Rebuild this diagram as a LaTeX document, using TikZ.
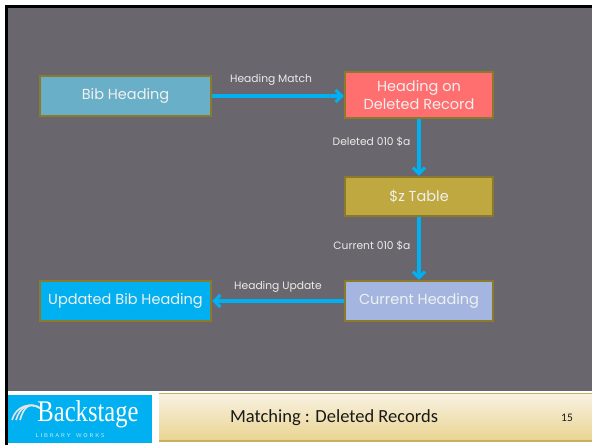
\documentclass[tikz,border=0pt]{standalone}
\usepackage{fontspec}
\setmainfont{Poppins}
\newfontfamily\footfont{Carlito}
\newfontfamily\logofont{Liberation Serif}
\usetikzlibrary{arrows.meta,positioning}

\definecolor{slidegray}{HTML}{69666D}
\definecolor{olive}{HTML}{8C7A2C}
\definecolor{flowblue}{HTML}{00B0F0}
\definecolor{bibblue}{HTML}{6AAFC8}
\definecolor{delred}{HTML}{FF6F6F}
\definecolor{zgold}{HTML}{C0A840}
\definecolor{curblue}{HTML}{A4B6E0}
\definecolor{foottop}{HTML}{F8F2E3}
\definecolor{footbot}{HTML}{EAD490}
\definecolor{footline}{HTML}{C8B060}

\tikzset{
  box/.style={draw=olive, line width=2.4pt, text=white!94!black, align=center,
    font=\fontsize{14.5}{17.5}\selectfont, inner sep=0pt},
  flow/.style={draw=flowblue, line width=3.2pt, -{Straight Barb[length=6pt,width=12pt]}},
  lbl/.style={text=white!92!black, font=\fontsize{10.7}{12}\selectfont, inner sep=2pt}
}

\begin{document}
\begin{tikzpicture}[x=1pt,y=-1pt]
  \useasboundingbox (0,0) rectangle (592,445);

  % slide background and frame
  \fill[black] (5,5) rectangle (592,8);
  \fill[black] (5,5) rectangle (8,445);
  \fill[slidegray] (8,8) rectangle (592,391);

  % boxes
  \node[box, fill=bibblue, minimum width=171pt, minimum height=40pt] (bib) at (125.5,96) {Bib Heading};
  \node[box, fill=delred, minimum width=148pt, minimum height=46pt] (deleted) at (419,95) {Heading on\\Deleted Record};
  \node[box, fill=zgold, minimum width=148pt, minimum height=39pt] (ztable) at (419,196.5) {\$z Table};
  \node[box, fill=curblue, minimum width=148pt, minimum height=40pt] (current) at (419,301) {Current Heading};
  \node[box, fill=flowblue, minimum width=171pt, minimum height=40pt] (updated) at (125.5,301) {Updated Bib Heading};

  % connectors
  \draw[flow] (bib.east) -- node[lbl, above=7pt, xshift=-7pt] {Heading Match} (bib.east -| deleted.west);
  \draw[flow] (deleted) -- node[lbl, left=5pt, pos=0.4] {Deleted 010 \$a} (ztable);
  \draw[flow] (ztable) -- node[lbl, left=5pt, pos=0.45] {Current 010 \$a} (current);
  \draw[flow] (current) -- node[lbl, above=5pt] {Heading Update} (updated);

  % footer
  \fill[flowblue] (8,395) rectangle (152,443);
  \foreach \d in {0,4,8} {
    \draw[white!80!gray, line width=1.6pt] (12+\d,420) .. controls (16+\d,406) and (30,402) .. (40,408);
  }
  \node[text=white, font=\logofont\fontsize{30}{30}\selectfont, inner sep=0pt, xscale=0.82] (logo) at (88,414) {Backstage};
  \node[text=white!85!flowblue, font=\sffamily\fontsize{5.5}{6}\selectfont, inner sep=0pt] (logosub) at (70,436) {L\,\,I\,\,B\,\,R\,\,A\,\,R\,\,Y\quad W\,\,O\,\,R\,\,K\,\,S};
  \shade[top color=foottop, bottom color=footbot] (159,393) rectangle (592,441);
  \draw[footline, line width=1pt] (159,393.5) -- (592,393.5);
  \draw[footline, line width=2pt] (159,441) -- (592,441);
  \node[font=\footfont\fontsize{18.5}{21}\selectfont, text=black!90] (title) at (334,418) {Matching : Deleted Records};
  \node[font=\footfont\fontsize{11.5}{13}\selectfont, text=black!90] (pageno) at (567,418) {15};
\end{tikzpicture}
\end{document}
